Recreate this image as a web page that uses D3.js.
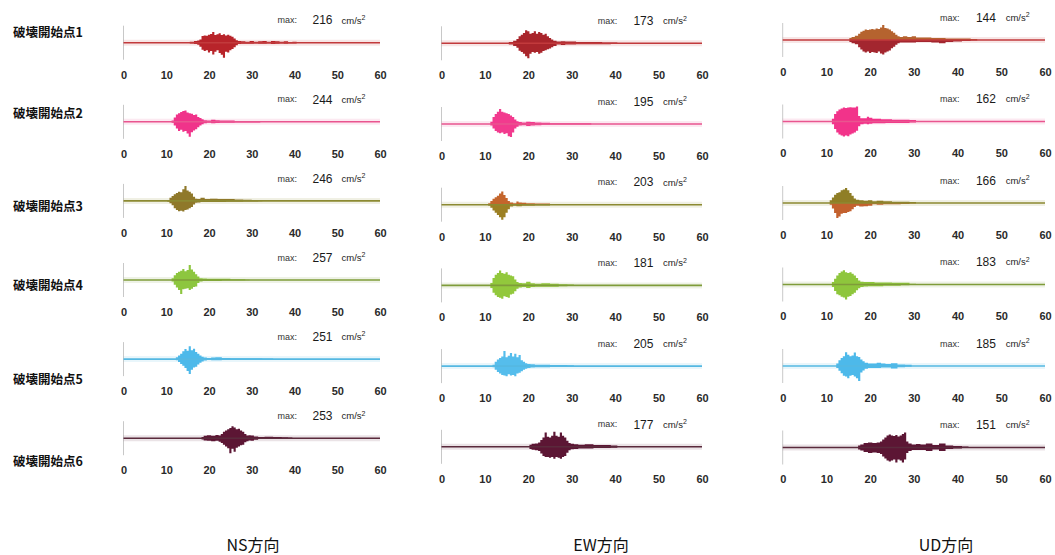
<!DOCTYPE html>
<html>
<head>
<meta charset="utf-8">
<script src="https://cdn.jsdelivr.net/npm/d3@7"></script>
<style>
  html, body { margin: 0; padding: 0; background: #fff; }
  svg { display: block; }
</style>
</head>
<body>
<svg id="chart" width="1055" height="555"></svg>
<script>
// Rupture-start cases (rows) and components (columns)
const categories = ["破壊開始点1", "破壊開始点2", "破壊開始点3", "破壊開始点4", "破壊開始点5", "破壊開始点6"];
const components = ["NS方向", "EW方向", "UD方向"];
const xTicks = [0, 10, 20, 30, 40, 50, 60];
const maxUnit = "cm/s";

// Peak accelerations (cm/s²)
const nsMax = [216, 244, 246, 257, 251, 253];
const ewMax = [173, 195, 203, 181, 205, 177];
const udMax = [144, 162, 166, 183, 185, 151];

// Acceleration envelopes: [time (s), positive peak, negative peak] in cm/s²
const nsTraces = [
  [[15,0,0],[16,15,10],[17,25,20],[17.5,30,30],[18,45,60],[18.5,95,100],[19,105,120],[19.5,100,110],[20,115,140],[20.5,125,120],[21,155,170],[21.5,110,130],[22,120,110],[22.5,135,150],[23,110,175],[23.5,120,216],[24,105,130],[24.5,115,140],[25,100,110],[25.5,85,90],[26,60,65],[26.5,35,35],[27,25,20],[28,20,15],[29,15,15],[30,25,15],[31,15,10],[32,20,15],[33,25,15],[34,15,10],[35,25,20],[36,20,15],[37,15,10],[38,20,15],[39,10,10],[40,15,10],[41,10,5],[42,5,5],[43,0,0]],
  [[11,0,0],[11.5,20,15],[12,70,60],[12.5,120,110],[13,140,150],[13.5,160,130],[14,175,160],[14.5,185,150],[15,150,190],[15.5,140,244],[16,130,170],[16.5,110,140],[17,120,120],[17.5,80,90],[18,60,60],[18.5,40,40],[19,25,25],[20,20,15],[21,35,25],[22,25,20],[23,20,15],[25,20,15],[27,15,10],[29,15,10],[31,10,10],[33,10,5],[35,5,5],[36,0,0]],
  [[10,0,0],[10.5,15,15],[11,50,40],[11.5,80,70],[12,110,120],[12.5,130,150],[13,150,170],[13.5,140,160],[14,190,175],[14.5,246,150],[15,170,140],[15.5,150,120],[16,120,100],[16.5,70,60],[17,35,30],[17.5,30,25],[18.5,50,20],[19.5,30,20],[21,35,20],[23,30,20],[25,30,15],[27,25,15],[29,20,10],[31,15,10],[32,10,5],[33,0,0]],
  [[11,0,0],[11.5,30,25],[12,80,80],[12.5,120,130],[13,140,170],[13.5,160,240],[14,190,160],[14.5,150,150],[15,170,140],[15.5,257,170],[16,180,150],[16.5,140,120],[17,100,110],[17.5,60,50],[18,30,25],[19,25,15],[20,20,15],[22,20,15],[24,20,10],[26,15,10],[28,15,10],[29,5,5],[30,0,0]],
  [[12,0,0],[12.5,30,20],[13,60,50],[13.5,90,80],[14,130,110],[14.5,170,150],[15,140,200],[15.5,215,251],[16,150,180],[16.5,175,140],[17,120,130],[17.5,90,90],[18,60,60],[18.5,40,40],[19,25,25],[20,20,15],[21,25,20],[22,30,20],[24,20,15],[26,15,10],[28,15,10],[31,15,10],[34,10,5],[36,0,0]],
  [[18,0,0],[18.5,20,20],[19,40,40],[20,50,45],[21,40,50],[22,55,45],[22.5,45,60],[23,70,80],[23.5,110,110],[24,130,140],[24.5,150,170],[25,170,253],[25.5,200,180],[26,180,230],[26.5,150,160],[27,160,140],[27.5,130,120],[28,110,110],[28.5,70,70],[29,45,50],[29.5,50,40],[30,45,45],[31,30,25],[32,20,15],[34,25,15],[36,20,15],[38,15,10],[39,10,5],[40,0,0]]
];
const ewTraces = [
  [[15,0,0],[16,15,15],[17,30,30],[17.5,50,50],[18,80,85],[18.5,100,100],[19,120,120],[19.5,150,150],[20,140,173],[20.5,110,120],[21,120,100],[21.5,140,110],[22,110,100],[22.5,130,120],[23,120,110],[23.5,100,90],[24,110,80],[24.5,80,70],[25,60,60],[25.5,45,45],[26,30,30],[27,20,15],[28,25,20],[29,20,15],[30,20,15],[32,15,10],[34,15,10],[36,15,10],[38,10,10],[40,10,5],[41,0,0]],
  [[11,0,0],[11.5,30,20],[12,90,60],[12.5,130,90],[13,160,110],[13.5,195,120],[14,160,110],[14.5,150,130],[15,140,120],[15.5,130,160],[16,110,170],[16.5,90,110],[17,60,60],[17.5,35,35],[18,25,20],[19,20,15],[20,30,25],[21,25,20],[22,20,15],[24,15,10],[26,10,5],[30,10,5],[34,10,5],[35,0,0]],
  [[10.5,0,0],[11,20,15],[11.5,50,40],[12,80,80],[12.5,100,110],[13,120,140],[13.5,150,170],[14,180,203],[14.5,130,170],[15,90,110],[15.5,50,60],[16,30,25],[17,20,15],[17.5,45,20],[18,30,20],[19,25,15],[20,20,15],[21,20,15],[22,15,10],[24,15,10],[26,10,5],[30,10,5],[40,10,5],[41,0,0]],
  [[11,0,0],[11.5,30,30],[12,90,90],[12.5,130,120],[13,150,140],[13.5,181,150],[14,150,160],[14.5,140,130],[15,160,140],[15.5,130,150],[16,120,110],[16.5,110,100],[17,70,70],[17.5,40,40],[18,30,25],[19,25,20],[20,45,30],[21,25,20],[22,20,15],[24,25,15],[26,20,15],[28,15,10],[30,10,5],[31,0,0]],
  [[11.5,0,0],[12,20,15],[12.5,60,50],[13,90,80],[13.5,110,100],[14,130,120],[14.5,205,130],[15,120,140],[15.5,140,110],[16,180,130],[16.5,130,120],[17,170,140],[17.5,120,100],[18,150,90],[18.5,80,70],[19,60,50],[19.5,40,35],[20,30,25],[21,25,20],[22,20,15],[24,20,15],[26,15,10],[28,15,10],[30,10,5],[31,0,0]],
  [[20,0,0],[20.5,25,25],[21,35,35],[22,40,40],[22.5,50,50],[23,80,80],[23.5,110,110],[24,170,120],[24.5,120,120],[25,110,130],[25.5,130,120],[26,177,140],[26.5,130,120],[27,120,130],[27.5,170,140],[28,130,120],[28.5,110,110],[29,70,70],[29.5,45,40],[30,35,30],[31,30,25],[32,25,20],[34,30,20],[36,20,15],[38,20,15],[40,15,10],[41,0,0]]
];
const udTraces = [
  [[15,0,0],[15.5,20,20],[16,30,30],[17,40,40],[17.5,60,70],[18,80,90],[18.5,90,110],[19,100,120],[19.5,95,110],[20,100,125],[20.5,105,115],[21,100,120],[21.5,110,125],[22,105,110],[22.5,120,130],[23,144,140],[23.5,115,120],[24,110,110],[24.5,100,100],[25,85,80],[25.5,70,65],[26,50,45],[26.5,35,30],[27,30,25],[28,35,25],[29,30,25],[30,35,25],[31,25,20],[33,25,20],[35,20,25],[36.5,20,30],[38,15,20],[40,15,15],[42,15,10],[44,10,5],[45,0,0]],
  [[11,0,0],[11.5,30,30],[12,80,80],[12.5,110,120],[13,130,140],[13.5,140,150],[14,150,162],[14.5,145,150],[15,150,160],[15.5,155,140],[16,150,130],[16.5,150,120],[17,162,100],[17.5,60,50],[18,35,30],[19,35,25],[19.5,50,30],[20,40,25],[21,30,20],[22,30,20],[23,25,20],[24,25,15],[26,20,15],[28,20,15],[30,15,10],[31,0,0]],
  [[10.5,0,0],[11,30,20],[11.5,60,60],[12,90,110],[12.5,110,166],[13,120,150],[13.5,140,120],[14,150,110],[14.5,166,110],[15,140,100],[15.5,110,90],[16,80,70],[16.5,50,45],[17,35,30],[18,30,40],[19,25,35],[20,30,30],[21,20,15],[22,25,20],[24,20,15],[26,15,15],[28,15,10],[30,10,5],[31,0,0]],
  [[11,0,0],[11.5,30,30],[12,70,80],[12.5,110,120],[13,140,130],[13.5,160,150],[14,175,160],[14.5,150,183],[15,140,150],[15.5,150,140],[16,130,120],[16.5,110,100],[17,80,70],[17.5,50,45],[18,35,30],[19,30,25],[20,30,20],[22,25,20],[24,25,15],[26,20,15],[28,20,10],[30,10,5],[31,0,0]],
  [[12,0,0],[12.5,30,25],[13,70,60],[13.5,100,90],[14,120,120],[14.5,170,130],[15,140,150],[15.5,120,120],[16,130,110],[16.5,165,130],[17,120,150],[17.5,110,185],[18,80,80],[18.5,60,55],[19,40,35],[20,30,25],[21,30,25],[22,40,25],[23,30,20],[24,25,20],[25.5,35,30],[27,20,15],[29,15,10],[30,0,0]],
  [[17,0,0],[17.5,20,20],[18,30,30],[19,45,45],[20,50,55],[21,45,50],[22,50,55],[22.5,60,65],[23,80,90],[23.5,100,110],[24,120,130],[24.5,130,140],[25,120,130],[25.5,115,120],[26,125,151],[26.5,110,120],[27,120,130],[27.5,135,150],[28,151,120],[28.5,60,55],[29,40,35],[30,30,25],[31,35,25],[32,30,25],[33.5,40,35],[35,25,20],[36.5,40,35],[38,20,15],[40,15,10],[42,10,5],[43,0,0]]
];

// Trace colours per row: [NS, EW, UD] for the positive and negative halves
const upColors = [
  ["#b8242a", "#a9252b", "#b5632f"],
  ["#f0338a", "#f23a8e", "#f2338a"],
  ["#8f782a", "#c4652c", "#8f7e26"],
  ["#8dc63f", "#92c83c", "#8ec63c"],
  ["#4db9ea", "#55bdec", "#4db9ea"],
  ["#5c1634", "#5c1634", "#5c1634"]
];
const downColors = [
  ["#b8242a", "#a9252b", "#a3262f"],
  ["#f0338a", "#f23a8e", "#f2338a"],
  ["#8f782a", "#9c8024", "#c3612e"],
  ["#8dc63f", "#92c83c", "#8ec63c"],
  ["#4db9ea", "#55bdec", "#4db9ea"],
  ["#5c1634", "#5c1634", "#5c1634"]
];
const baseColors = ["#c23a3c", "#e9558f", "#8c8a32", "#7f9c3a", "#55b8e2", "#5a2a3c"];

// Layout
const columnsLayout = [
  { x0: 123.5, x1: 380, top: 42.7, step: 79.1 },
  { x0: 441.5, x1: 702, top: 43.3, step: 80.7 },
  { x0: 782.7, x1: 1045, top: 40, step: 81.5 }
];
const rowLabelY = [33, 114, 207, 286, 380, 462];
const columnTitleX = [253, 601, 946];
const halfHeight = 15;

const maxes = [nsMax, ewMax, udMax];
const traces = [nsTraces, ewTraces, udTraces];

const svg = d3.select("#chart");

// Row labels
svg.append("g").selectAll("text")
  .data(categories)
  .join("text")
  .attr("x", 13)
  .attr("y", (d, i) => rowLabelY[i])
  .attr("dy", "0.35em")
  .attr("font-family", "'Noto Sans CJK JP', sans-serif")
  .attr("font-size", 12.5)
  .attr("font-weight", "bold")
  .attr("fill", "#111")
  .text(d => d);

// Column titles
svg.append("g").selectAll("text")
  .data(components)
  .join("text")
  .attr("x", (d, i) => columnTitleX[i])
  .attr("y", 545)
  .attr("dy", "0.35em")
  .attr("text-anchor", "middle")
  .attr("font-family", "'Noto Sans CJK JP', sans-serif")
  .attr("font-size", 16)
  .attr("fill", "#111")
  .text(d => d);

components.forEach((comp, c) => {
  const L = columnsLayout[c];
  const x = d3.scaleLinear().domain([0, 60]).range([L.x0, L.x1]);
  const rowY = d3.scaleLinear().domain([0, 1]).range([L.top, L.top + L.step]);

  categories.forEach((cat, r) => {
    const base = rowY(r);
    const peak = maxes[c][r];
    const y = d3.scaleLinear().domain([-peak, peak]).range([base + halfHeight, base - halfHeight]);
    const g = svg.append("g").attr("class", "panel");

    // zero marker at t = 0
    g.append("line")
      .attr("x1", x(0)).attr("x2", x(0))
      .attr("y1", base - 17).attr("y2", base + 17)
      .attr("stroke", "#9a9a9a").attr("stroke-opacity", 0.55).attr("stroke-width", 1);

    // tinted band around the zero line
    g.append("line")
      .attr("x1", x(0)).attr("x2", x(60))
      .attr("y1", base).attr("y2", base)
      .attr("stroke", baseColors[r]).attr("stroke-opacity", 0.13).attr("stroke-width", 6);

    const data = traces[c][r];
    const upper = d3.area().curve(d3.curveStep).x(d => x(d[0])).y0(y(0)).y1(d => y(d[1]));
    const lower = d3.area().curve(d3.curveStep).x(d => x(d[0])).y0(y(0)).y1(d => y(-d[2]));

    g.append("path").datum(data).attr("d", upper).attr("fill", upColors[r][c]);
    g.append("path").datum(data).attr("d", lower).attr("fill", downColors[r][c]);

    // zero line
    g.append("line")
      .attr("x1", x(0)).attr("x2", x(60))
      .attr("y1", base).attr("y2", base)
      .attr("stroke", baseColors[r]).attr("stroke-width", 1.6);

    // time axis labels
    const axis = d3.axisBottom(x).tickValues(xTicks).tickSize(0).tickPadding(0).tickFormat(d3.format("d"));
    const ax = g.append("g").attr("transform", `translate(0,${base + 28})`).call(axis);
    ax.select(".domain").remove();
    ax.selectAll("text")
      .attr("font-family", "'Liberation Sans', Arial, sans-serif")
      .attr("font-size", 11)
      .attr("font-weight", "bold")
      .attr("fill", "#2a2a2a");

    // peak label
    const ly = base - 22.5;
    const lab = g.append("g").attr("font-family", "'Liberation Sans', Arial, sans-serif");
    lab.append("text").attr("x", x(36)).attr("y", ly).attr("dy", "0.35em")
      .attr("font-size", 9).attr("fill", "#333").text("max:");
    lab.append("text").attr("x", x(44.2)).attr("y", ly).attr("dy", "0.35em")
      .attr("font-size", 12).attr("fill", "#1a1a1a").text(peak);
    const unit = lab.append("text").attr("x", x(51)).attr("y", ly).attr("dy", "0.35em")
      .attr("font-size", 9.5).attr("fill", "#222");
    unit.append("tspan").text(maxUnit);
    unit.append("tspan").attr("dy", "-0.5em").attr("font-size", 7).text("2");
  });
});
</script>
</body>
</html>
